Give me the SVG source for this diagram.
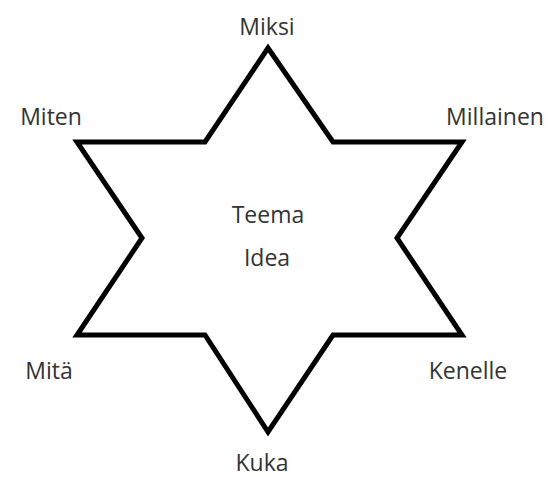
<svg xmlns="http://www.w3.org/2000/svg" width="551" height="477" viewBox="0 0 551 477">
<style>
.t{font-family:"Open Sans","Liberation Sans",sans-serif;font-size:23px;fill:#333;text-anchor:middle}
.star{fill:none;stroke:#000;stroke-width:5;stroke-linejoin:miter}
</style>
<rect width="551" height="477" fill="#fff"/>
<g id="star">
<polygon class="star" points="268,48 333,142 462,142 397,238 462,335 333,335 268,432 205,335 77,335 142,238 77,142 205,142"/>
</g>
<g id="center"><text class="t" x="268" y="223">Teema</text><text class="t" x="267" y="266">Idea</text></g>
<g id="miksi"><text class="t" x="267" y="35">Miksi</text></g>
<g id="miten"><text class="t" x="51" y="125">Miten</text></g>
<g id="millainen"><text class="t" x="495" y="125">Millainen</text></g>
<g id="mita"><text class="t" x="49" y="379">Mitä</text></g>
<g id="kenelle"><text class="t" x="468" y="379">Kenelle</text></g>
<g id="kuka"><text class="t" x="262" y="471">Kuka</text></g>
</svg>
